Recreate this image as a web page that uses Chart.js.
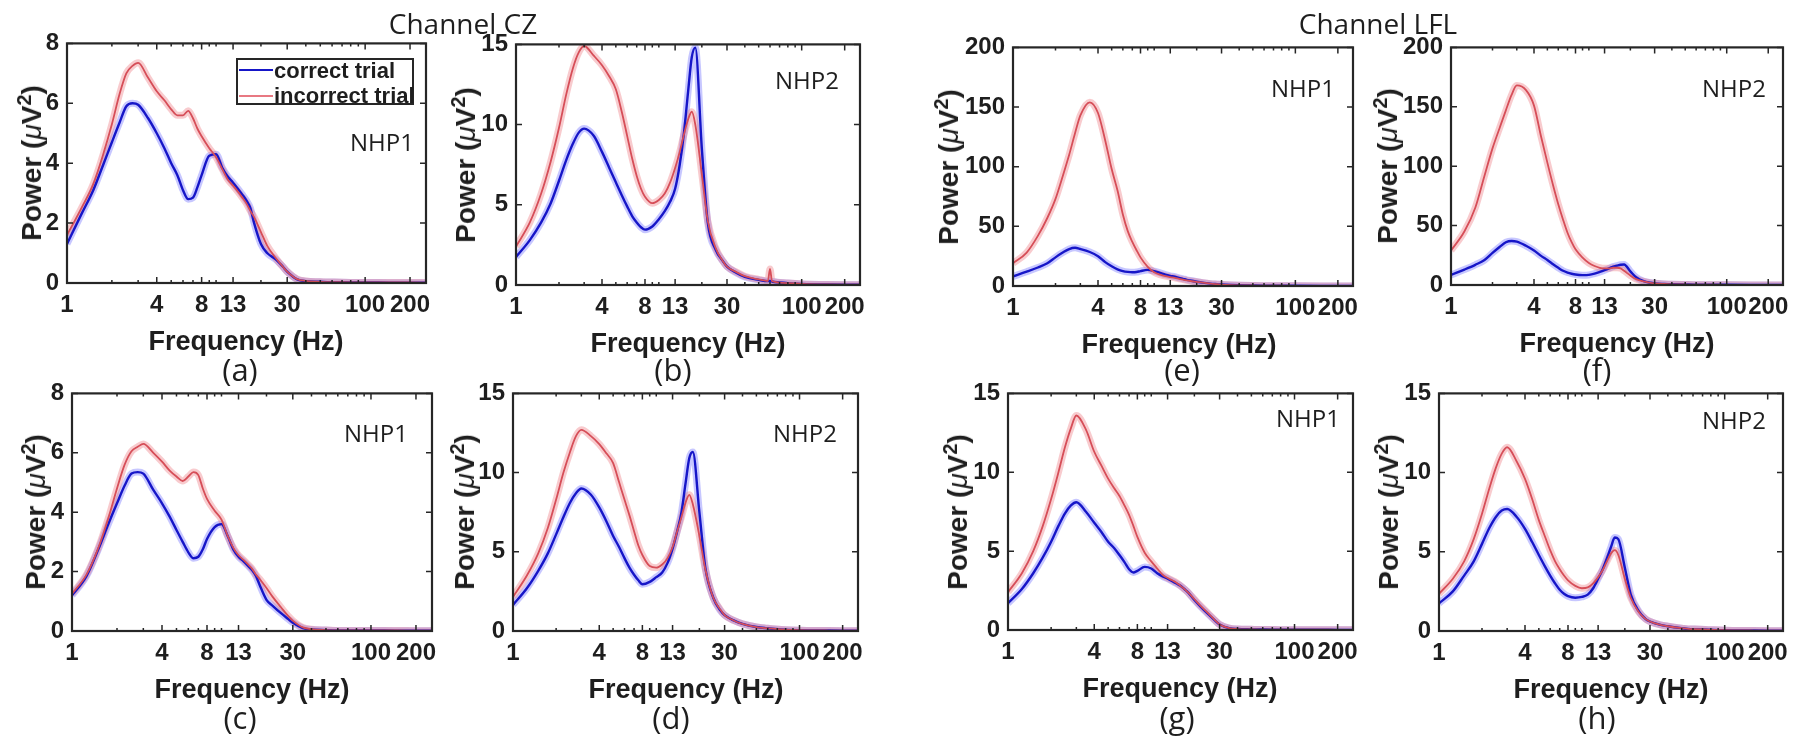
<!DOCTYPE html>
<html>
<head>
<meta charset="utf-8">
<script src="https://cdn.jsdelivr.net/npm/chart.js@4.4.1/dist/chart.umd.min.js"></script>
<style>
  html, body { margin: 0; padding: 0; background: #fff; }
  #fig { position: relative; width: 1800px; height: 740px; overflow: hidden; background: #fff; }
  #fig canvas { position: absolute; }
  .txt { position: absolute; white-space: nowrap; line-height: 1; color: #1e1e1e; transform: translate(-50%, -50%); }
  .cal { font-family: "Open Sans", sans-serif; }
  .ax { font-family: "Liberation Sans", Arial, sans-serif; font-weight: bold; font-size: 27px; }
  .legend { position: absolute; border: 2px solid #262626; background: #fff; box-sizing: border-box; }
  .legend span { position: absolute; font-family: "Liberation Sans", Arial, sans-serif; font-weight: bold; font-size: 22px; color: #1e1e1e; line-height: 1; white-space: nowrap; }
  .legend i { position: absolute; height: 2px; }
</style>
</head>
<body>
<div id="fig"></div>
<script>
// frequency grid (Hz) shared by all panels
const freqHz = [1, 1.25, 1.5, 1.75, 2, 2.25, 2.5, 2.75, 3,
  3.5, 4, 4.5, 5, 5.5, 6, 6.5, 7, 7.5, 8,
  9, 10, 11, 12, 13, 14, 15, 16, 17, 18,
  20, 22, 25, 28, 30, 35, 40, 50,
  58, 60, 62,
  80, 100, 150, 200, 256];

const xTickHz = [1, 4, 8, 13, 30, 100, 200];
const xMinorHz = [2, 3, 5, 6, 7, 9, 10, 20, 40, 50, 60, 70, 80, 90];
const yTicks8 = [0, 2, 4, 6, 8];
const yTicks15 = [0, 5, 10, 15];
const yTicks200 = [0, 50, 100, 150, 200];

// Channel CZ, NHP1 (a)
const aCorrect = [1.3, 2.3, 3.1, 3.95, 4.7, 5.35, 5.9, 6.0, 5.95,
  5.5, 5.0, 4.5, 4.0, 3.6, 3.1, 2.8, 2.85, 3.2, 3.6,
  4.25, 4.3, 3.85, 3.55, 3.35, 3.15, 2.95, 2.75, 2.5, 2.0,
  1.3, 1.0, 0.8, 0.55, 0.38, 0.12, 0.06, 0.04,
  0.03, 0.03, 0.03,
  0.02, 0.02, 0.01, 0.01, 0.01];
const aIncorrect = [1.6, 2.5, 3.3, 4.3, 5.3, 6.3, 7.0, 7.25, 7.35,
  6.85, 6.4, 6.1, 5.8, 5.6, 5.6, 5.75, 5.5, 5.15, 4.9,
  4.5, 4.2, 3.8, 3.45, 3.25, 3.05, 2.85, 2.65, 2.4, 2.2,
  1.7, 1.25, 0.85, 0.55, 0.38, 0.13, 0.07, 0.04,
  0.03, 0.03, 0.03,
  0.02, 0.02, 0.02, 0.02, 0.01];

// Channel CZ, NHP2 (b)
const bCorrect = [1.75, 2.8, 3.9, 5.1, 6.5, 7.8, 8.8, 9.5, 9.75,
  9.3, 8.3, 7.3, 6.4, 5.6, 4.9, 4.3, 3.9, 3.6, 3.45,
  3.65, 4.1, 4.6, 5.2, 6.0, 7.5, 9.5, 12.0, 14.2, 14.8,
  8.5, 3.9, 2.2, 1.5, 1.15, 0.75, 0.5, 0.32,
  0.24, 0.26, 0.22,
  0.12, 0.07, 0.03, 0.02, 0.02];
const bIncorrect = [2.4, 3.9, 5.7, 7.7, 9.8, 11.9, 13.5, 14.5, 14.9,
  14.3, 13.7, 13.0, 12.2, 10.8, 9.3, 7.9, 6.8, 6.0, 5.5,
  5.1, 5.3, 5.7, 6.4, 7.3, 8.3, 9.4, 10.3, 10.8, 10.0,
  6.9, 4.0, 2.3, 1.5, 1.15, 0.8, 0.55, 0.35,
  0.25, 1.0, 0.24,
  0.12, 0.07, 0.03, 0.02, 0.02];

// Channel CZ, NHP1 (c)
const cCorrect = [1.2, 1.85, 2.75, 3.6, 4.3, 4.9, 5.3, 5.35, 5.3,
  4.75, 4.3, 3.85, 3.4, 3.0, 2.65, 2.45, 2.5, 2.75, 3.1,
  3.5, 3.6, 3.2, 2.75, 2.5, 2.35, 2.2, 2.05, 1.85, 1.55,
  1.05, 0.85, 0.6, 0.4, 0.28, 0.1, 0.05, 0.03,
  0.02, 0.02, 0.02,
  0.02, 0.02, 0.01, 0.01, 0.01];
const cIncorrect = [1.25, 1.9, 2.8, 3.8, 4.8, 5.6, 6.05, 6.2, 6.3,
  6.0, 5.7, 5.4, 5.2, 5.05, 5.2, 5.35, 5.25, 4.8, 4.45,
  4.05, 3.75, 3.2, 2.8, 2.55, 2.4, 2.25, 2.1, 1.9, 1.75,
  1.45, 1.15, 0.8, 0.5, 0.35, 0.12, 0.06, 0.03,
  0.02, 0.02, 0.02,
  0.02, 0.02, 0.02, 0.01, 0.01];

// Channel CZ, NHP2 (d)
const dCorrect = [1.65, 2.7, 3.8, 4.9, 6.1, 7.2, 8.1, 8.7, 9.0,
  8.6, 7.8, 6.9, 6.0, 5.3, 4.6, 4.0, 3.55, 3.2, 2.95,
  3.1, 3.4, 3.7, 4.3, 5.2, 6.3, 7.5, 9.3, 10.9, 11.3,
  7.5, 4.0, 2.1, 1.3, 1.0, 0.65, 0.45, 0.25,
  0.18, 0.17, 0.16,
  0.08, 0.05, 0.03, 0.02, 0.02];
const dIncorrect = [2.15, 3.5, 4.9, 6.5, 8.3, 10.0, 11.3, 12.3, 12.7,
  12.3, 11.8, 11.2, 10.6, 9.4, 8.3, 7.3, 6.3, 5.4, 4.8,
  4.1, 4.0, 4.2, 4.6, 5.3, 6.3, 7.2, 8.1, 8.6, 8.0,
  6.0, 3.9, 2.1, 1.35, 1.0, 0.65, 0.45, 0.25,
  0.18, 0.17, 0.16,
  0.08, 0.05, 0.03, 0.02, 0.02];

// Channel LFL, NHP1 (e)
const eCorrect = [8, 12, 15.5, 19, 24, 28, 31, 32, 31,
  28.5, 25, 20, 16.5, 14, 12.5, 11.8, 11.5, 11.7, 12.5,
  13.5, 12.5, 11, 9.5, 8.5, 7.8, 6.8, 6.0, 5.2, 4.6,
  3.6, 2.8, 2.0, 1.5, 1.2, 0.8, 0.6, 0.4,
  0.3, 0.3, 0.3,
  0.2, 0.15, 0.1, 0.08, 0.05];
const eIncorrect = [19, 28, 42, 57, 73, 92, 110, 128, 143,
  154, 145, 122, 98, 80, 60, 46, 37, 30, 24,
  16, 11.5, 9.5, 8.3, 7.5, 6.8, 6.0, 5.3, 4.7, 4.2,
  3.5, 2.8, 2.0, 1.5, 1.2, 0.8, 0.6, 0.4,
  0.3, 0.3, 0.3,
  0.2, 0.15, 0.1, 0.08, 0.05];

// Channel LFL, NHP2 (f)
const fCorrect = [8.5, 13, 17, 21, 27, 32, 36, 37, 36.5,
  33, 29, 24.5, 21, 17.5, 14.5, 12, 10.5, 9.5, 8.8,
  8.3, 8.5, 9.5, 11, 12.5, 14, 15.5, 16.3, 17.0, 17.3,
  11.5, 6.5, 3.2, 1.9, 1.4, 0.9, 0.6, 0.4,
  0.3, 0.3, 0.3,
  0.2, 0.15, 0.1, 0.08, 0.05];
const fIncorrect = [29, 45, 65, 92, 115, 132, 147, 160, 168,
  164, 151, 125, 103, 84, 68, 55, 44, 36, 30,
  23, 18.5, 16, 14.5, 14, 14, 14.5, 14.5, 14, 12,
  8, 5, 3, 1.8, 1.4, 0.9, 0.6, 0.4,
  0.3, 0.3, 0.3,
  0.2, 0.15, 0.1, 0.08, 0.05];

// Channel LFL, NHP1 (g)
const gCorrect = [1.7, 2.6, 3.6, 4.6, 5.6, 6.6, 7.4, 7.9, 8.1,
  7.5, 6.8, 6.2, 5.6, 5.2, 4.75, 4.3, 3.85, 3.65, 3.75,
  4.0, 3.9, 3.6, 3.4, 3.25, 3.1, 2.95, 2.8, 2.6, 2.4,
  1.9, 1.5, 1.0, 0.58, 0.35, 0.12, 0.06, 0.04,
  0.03, 0.03, 0.03,
  0.02, 0.02, 0.02, 0.01, 0.01];
const gIncorrect = [2.4, 3.6, 5.0, 6.6, 8.3, 10.0, 11.6, 12.8, 13.6,
  12.7, 11.3, 10.4, 9.6, 9.0, 8.5, 7.9, 7.3, 6.6, 5.9,
  4.9, 4.35, 3.9, 3.5, 3.3, 3.15, 3.0, 2.8, 2.6, 2.4,
  1.95, 1.55, 1.05, 0.6, 0.35, 0.12, 0.06, 0.04,
  0.03, 0.03, 0.03,
  0.02, 0.02, 0.02, 0.01, 0.01];

// Channel LFL, NHP2 (h)
const hCorrect = [1.75, 2.5, 3.5, 4.4, 5.5, 6.5, 7.2, 7.6, 7.7,
  7.2, 6.45, 5.6, 4.8, 4.1, 3.5, 3.0, 2.6, 2.35, 2.2,
  2.1, 2.15, 2.3, 2.7, 3.3, 3.9, 4.6, 5.3, 5.9, 5.8,
  4.0, 2.3, 1.25, 0.75, 0.6, 0.4, 0.3, 0.18,
  0.12, 0.12, 0.12,
  0.08, 0.05, 0.03, 0.02, 0.02];
const hIncorrect = [2.35, 3.3, 4.4, 5.8, 7.4, 9.0, 10.3, 11.2, 11.6,
  10.7, 9.6, 8.3, 7.0, 6.0, 5.1, 4.4, 3.9, 3.5, 3.2,
  2.85, 2.7, 2.75, 3.0, 3.4, 3.85, 4.4, 4.9, 5.1, 4.8,
  3.3, 2.1, 1.2, 0.75, 0.6, 0.4, 0.3, 0.18,
  0.12, 0.12, 0.12,
  0.08, 0.05, 0.03, 0.02, 0.02];

const fig = document.getElementById('fig');
const tickFont = { family: 'Liberation Sans', size: 24, weight: 'bold' };
const inkColor = '#1e1e1e';

// box outline + inward tick marks, like the MATLAB axes
const boxTicks = {
  id: 'boxTicks',
  afterDraw(chart) {
    const { left, top, right, bottom } = chart.chartArea;
    const ctx = chart.ctx;
    const xs = chart.scales.x, ys = chart.scales.y;
    ctx.save();
    ctx.strokeStyle = '#262626';
    ctx.lineWidth = 1.5;
    ctx.beginPath();
    xTickHz.forEach(v => {
      const px = xs.getPixelForValue(v);
      ctx.moveTo(px, bottom); ctx.lineTo(px, bottom - 6);
      ctx.moveTo(px, top); ctx.lineTo(px, top + 6);
    });
    xMinorHz.forEach(v => {
      const px = xs.getPixelForValue(v);
      ctx.moveTo(px, bottom); ctx.lineTo(px, bottom - 3);
      ctx.moveTo(px, top); ctx.lineTo(px, top + 3);
    });
    ys.ticks.forEach(t => {
      const py = ys.getPixelForValue(t.value);
      ctx.moveTo(left, py); ctx.lineTo(left + 6, py);
      ctx.moveTo(right, py); ctx.lineTo(right - 6, py);
    });
    ctx.stroke();
    ctx.lineWidth = 2.2;
    ctx.strokeRect(left, top, right - left, bottom - top);
    ctx.restore();
  }
};

function makePanel(box, correct, incorrect, yTicks) {
  const padL = 80, padT = 22, padR = 28, padB = 46;
  const [L, T, R, B] = box;
  const cv = document.createElement('canvas');
  cv.width = R - L + padL + padR;
  cv.height = B - T + padT + padB;
  cv.style.left = (L - padL) + 'px';
  cv.style.top = (T - padT) + 'px';
  fig.appendChild(cv);

  const line = (data, color, width) => ({
    data: data,
    borderColor: color,
    borderWidth: width,
    pointRadius: 0,
    fill: false,
    cubicInterpolationMode: 'monotone'
  });

  new Chart(cv, {
    type: 'line',
    data: {
      labels: freqHz,
      datasets: [
        line(incorrect, 'rgb(214, 78, 88)', 1.8),
        line(correct, 'rgb(22, 22, 200)', 2.4),
        line(incorrect, 'rgba(236, 112, 118, 0.36)', 7),
        line(correct, 'rgba(70, 70, 255, 0.3)', 7)
      ]
    },
    options: {
      responsive: false,
      animation: false,
      events: [],
      layout: { padding: { top: padT, right: padR, left: 0, bottom: 0 } },
      plugins: { legend: { display: false }, tooltip: { enabled: false } },
      scales: {
        x: {
          type: 'logarithmic',
          min: 1,
          max: 256,
          grid: { display: false, drawTicks: false },
          border: { display: false },
          ticks: {
            font: tickFont, color: inkColor, padding: 8,
            autoSkip: false, maxRotation: 0, minRotation: 0,
            callback: v => String(v)
          },
          afterBuildTicks: s => { s.ticks = xTickHz.map(v => ({ value: v })); },
          afterFit: s => { s.height = padB; }
        },
        y: {
          type: 'linear',
          min: yTicks[0],
          max: yTicks[yTicks.length - 1],
          grid: { display: false, drawTicks: false },
          border: { display: false },
          ticks: { font: tickFont, color: inkColor, padding: 8 },
          afterBuildTicks: s => { s.ticks = yTicks.map(v => ({ value: v })); },
          afterFit: s => { s.width = padL; }
        }
      }
    },
    plugins: [boxTicks]
  });
}

function addText(html, x, y, cls, extra) {
  const d = document.createElement('div');
  d.className = 'txt ' + cls;
  d.innerHTML = html;
  d.style.left = x + 'px';
  d.style.top = y + 'px';
  if (extra) Object.assign(d.style, extra);
  fig.appendChild(d);
  return d;
}

// panels: box [left, top, right, bottom] in page pixels
const panels = [
  { box: [67, 43, 426, 283], c: aCorrect, i: aIncorrect, y: yTicks8, tag: '(a)', tagX: 240, nhp: 'NHP1', nx: 382, ny: 142, ytx: 30, ftx: 246 },
  { box: [516, 44, 860, 285], c: bCorrect, i: bIncorrect, y: yTicks15, tag: '(b)', tagX: 673, nhp: 'NHP2', nx: 807, ny: 80, ytx: 464, ftx: 688 },
  { box: [72, 393, 432, 631], c: cCorrect, i: cIncorrect, y: yTicks8, tag: '(c)', tagX: 240, nhp: 'NHP1', nx: 376, ny: 433, ytx: 34, ftx: 252 },
  { box: [513, 393, 858, 631], c: dCorrect, i: dIncorrect, y: yTicks15, tag: '(d)', tagX: 671, nhp: 'NHP2', nx: 805, ny: 433, ytx: 463, ftx: 686 },
  { box: [1013, 47, 1353, 286], c: eCorrect, i: eIncorrect, y: yTicks200, tag: '(e)', tagX: 1182, nhp: 'NHP1', nx: 1303, ny: 88, ytx: 947, ftx: 1179 },
  { box: [1451, 47, 1783, 285], c: fCorrect, i: fIncorrect, y: yTicks200, tag: '(f)', tagX: 1597, nhp: 'NHP2', nx: 1734, ny: 88, ytx: 1386, ftx: 1617 },
  { box: [1008, 393, 1353, 630], c: gCorrect, i: gIncorrect, y: yTicks15, tag: '(g)', tagX: 1177, nhp: 'NHP1', nx: 1308, ny: 418, ytx: 956, ftx: 1180 },
  { box: [1439, 393, 1783, 631], c: hCorrect, i: hIncorrect, y: yTicks15, tag: '(h)', tagX: 1597, nhp: 'NHP2', nx: 1734, ny: 420, ytx: 1387, ftx: 1611 }
];

panels.forEach(p => {
  makePanel(p.box, p.c, p.i, p.y);
  const top = p.box[1], bottom = p.box[3];
  const upper = top < 200;
  addText('Frequency (Hz)', p.ftx, bottom + 58, 'ax');
  addText('Power (<span style="font-weight:normal;font-style:italic">&mu;</span>V<sup style="font-size:20px;vertical-align:10px">2</sup>)',
    p.ytx, (top + bottom) / 2, 'ax', { transform: 'translate(-50%, -50%) rotate(-90deg)', fontSize: '28px' });
  addText(p.tag, p.tagX, upper ? 369 : 717, 'cal', { fontSize: '31px' });
  addText(p.nhp, p.nx, p.ny, 'cal', { fontSize: '24px' });
});

addText('Channel CZ', 463, 23, 'cal', { fontSize: '28px' });
addText('Channel LFL', 1378, 23, 'cal', { fontSize: '28px' });

// legend inside panel (a)
const leg = document.createElement('div');
leg.className = 'legend';
Object.assign(leg.style, { left: '236px', top: '58px', width: '178px', height: '47px' });
leg.innerHTML =
  '<i style="left:1px;top:9px;width:34px;background:rgb(22,22,200)"></i>' +
  '<span style="left:36px;top:0px">correct trial</span>' +
  '<i style="left:1px;top:35px;width:34px;background:rgb(232,120,130)"></i>' +
  '<span style="left:36px;top:25px">incorrect trial</span>';
fig.appendChild(leg);
</script>
</body>
</html>
